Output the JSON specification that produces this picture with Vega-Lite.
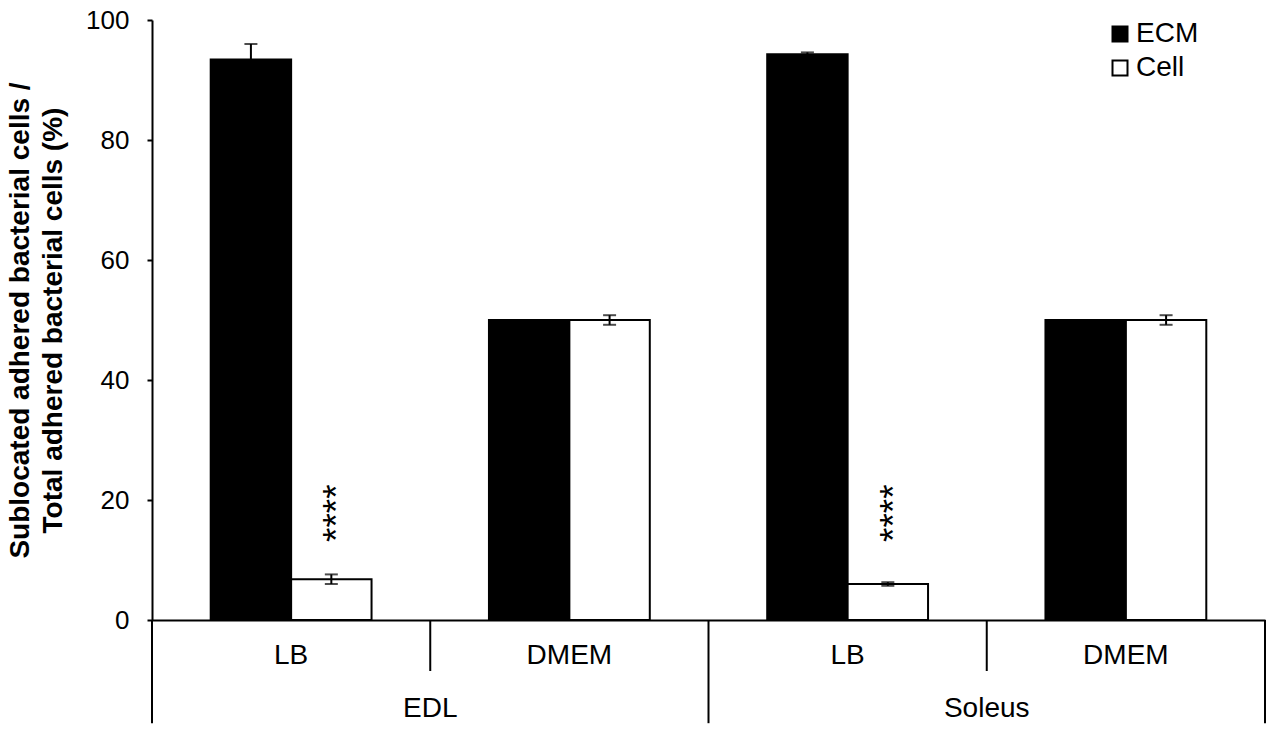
{
  "$schema": "https://vega.github.io/schema/vega-lite/v6.json",
  "width": 1113,
  "height": 600,
  "autosize": "none",
  "padding": {"left": 152, "top": 20, "right": 15, "bottom": 114},
  "background": "white",
  "data": {
    "values": [
      {"key": "EDL|LB", "muscle": "EDL", "medium": "LB", "type": "ECM", "value": 93.4, "lo": 90.7, "hi": 96.0},
      {"key": "EDL|LB", "muscle": "EDL", "medium": "LB", "type": "Cell", "value": 6.8, "lo": 6.0, "hi": 7.6},
      {"key": "EDL|DMEM", "muscle": "EDL", "medium": "DMEM", "type": "ECM", "value": 50.0, "lo": 49.2, "hi": 50.0},
      {"key": "EDL|DMEM", "muscle": "EDL", "medium": "DMEM", "type": "Cell", "value": 50.0, "lo": 49.2, "hi": 50.8},
      {"key": "Soleus|LB", "muscle": "Soleus", "medium": "LB", "type": "ECM", "value": 94.3, "lo": 94.0, "hi": 94.6},
      {"key": "Soleus|LB", "muscle": "Soleus", "medium": "LB", "type": "Cell", "value": 6.0, "lo": 5.7, "hi": 6.3},
      {"key": "Soleus|DMEM", "muscle": "Soleus", "medium": "DMEM", "type": "ECM", "value": 50.0, "lo": 49.2, "hi": 50.0},
      {"key": "Soleus|DMEM", "muscle": "Soleus", "medium": "DMEM", "type": "Cell", "value": 50.0, "lo": 49.2, "hi": 50.8}
    ]
  },
  "encoding": {
    "x": {
      "field": "key",
      "type": "nominal",
      "scale": {"domain": ["EDL|LB", "EDL|DMEM", "Soleus|LB", "Soleus|DMEM"], "paddingInner": 0, "paddingOuter": 0},
      "axis": {"labels": false, "ticks": false, "title": null, "domainColor": "black", "domainWidth": 2}
    }
  },
  "layer": [
    {
      "mark": {"type": "bar", "stroke": "black", "strokeWidth": 2},
      "encoding": {
        "xOffset": {"field": "type", "type": "nominal", "sort": ["ECM", "Cell"], "scale": {"paddingOuter": 0.73, "paddingInner": 0}},
        "y": {
          "field": "value",
          "type": "quantitative",
          "scale": {"domain": [0, 100]},
          "axis": {
            "values": [0, 20, 40, 60, 80, 100],
            "grid": false,
            "title": ["Sublocated adhered bacterial cells /", "Total adhered bacterial cells (%)"],
            "titleFont": "Liberation Sans",
            "titleFontSize": 28,
            "titleFontWeight": "bold",
            "titleColor": "black",
            "titleLineHeight": 33,
            "titlePadding": 18,
            "labelFont": "Liberation Sans",
            "labelFontSize": 26,
            "labelColor": "black",
            "labelPadding": 18,
            "tickColor": "black",
            "tickWidth": 2,
            "tickSize": 5,
            "domainColor": "black",
            "domainWidth": 2
          }
        },
        "fill": {
          "field": "type",
          "type": "nominal",
          "scale": {"domain": ["ECM", "Cell"], "range": ["black", "white"]},
          "legend": {
            "orient": "none",
            "legendX": 954,
            "legendY": 0,
            "title": null,
            "symbolType": "square",
            "symbolSize": 225,
            "symbolStrokeColor": "black",
            "symbolStrokeWidth": 2,
            "labelFont": "Liberation Sans",
            "labelFontSize": 28,
            "labelColor": "black",
            "labelOffset": 2,
            "rowPadding": 6,
            "padding": 0
          }
        }
      }
    },
    {
      "mark": {"type": "rule", "color": "black", "strokeWidth": 2},
      "encoding": {
        "xOffset": {"field": "type", "type": "nominal", "sort": ["ECM", "Cell"]},
        "y": {"field": "lo", "type": "quantitative"},
        "y2": {"field": "hi"}
      }
    },
    {
      "mark": {"type": "tick", "color": "black", "thickness": 2, "size": 13, "orient": "horizontal"},
      "encoding": {
        "xOffset": {"field": "type", "type": "nominal", "sort": ["ECM", "Cell"]},
        "y": {"field": "hi", "type": "quantitative"}
      }
    },
    {
      "mark": {"type": "tick", "color": "black", "thickness": 2, "size": 13, "orient": "horizontal"},
      "encoding": {
        "xOffset": {"field": "type", "type": "nominal", "sort": ["ECM", "Cell"]},
        "y": {"field": "lo", "type": "quantitative"}
      }
    },
    {
      "transform": [{"filter": "datum.type == 'Cell' && datum.medium == 'LB'"}],
      "mark": {"type": "text", "text": "****", "angle": 270, "dy": 7, "fontSize": 37, "font": "Liberation Sans", "color": "black", "align": "center", "baseline": "middle"},
      "encoding": {
        "xOffset": {"field": "type", "type": "nominal", "sort": ["ECM", "Cell"]},
        "y": {"datum": 17.8}
      }
    },
    {
      "transform": [{"filter": "datum.type == 'ECM' && datum.medium == 'LB'"}],
      "mark": {"type": "rule", "color": "black", "strokeWidth": 2},
      "encoding": {
        "x": {"field": "key", "type": "nominal", "bandPosition": 0},
        "y": {"datum": 0},
        "y2": {"datum": -17.2}
      }
    },
    {
      "transform": [{"filter": "datum.type == 'ECM' && datum.medium == 'DMEM'"}],
      "mark": {"type": "rule", "color": "black", "strokeWidth": 2},
      "encoding": {
        "x": {"field": "key", "type": "nominal", "bandPosition": 0},
        "y": {"datum": 0},
        "y2": {"datum": -8.5}
      }
    },
    {
      "transform": [{"filter": "datum.type == 'ECM' && datum.key == 'Soleus|DMEM'"}],
      "mark": {"type": "rule", "color": "black", "strokeWidth": 2},
      "encoding": {
        "x": {"field": "key", "type": "nominal", "bandPosition": 1},
        "y": {"datum": 0},
        "y2": {"datum": -17.2}
      }
    },
    {
      "transform": [{"filter": "datum.type == 'ECM'"}],
      "mark": {"type": "text", "fontSize": 28, "font": "Liberation Sans", "color": "black", "align": "center", "baseline": "alphabetic"},
      "encoding": {
        "y": {"datum": -7.3},
        "text": {"field": "medium"}
      }
    },
    {
      "transform": [{"filter": "datum.type == 'ECM' && datum.medium == 'DMEM'"}],
      "mark": {"type": "text", "fontSize": 28, "font": "Liberation Sans", "color": "black", "align": "center", "baseline": "alphabetic"},
      "encoding": {
        "x": {"field": "key", "type": "nominal", "bandPosition": 0},
        "y": {"datum": -16.2},
        "text": {"field": "muscle"}
      }
    }
  ],
  "config": {"view": {"stroke": null}}
}
